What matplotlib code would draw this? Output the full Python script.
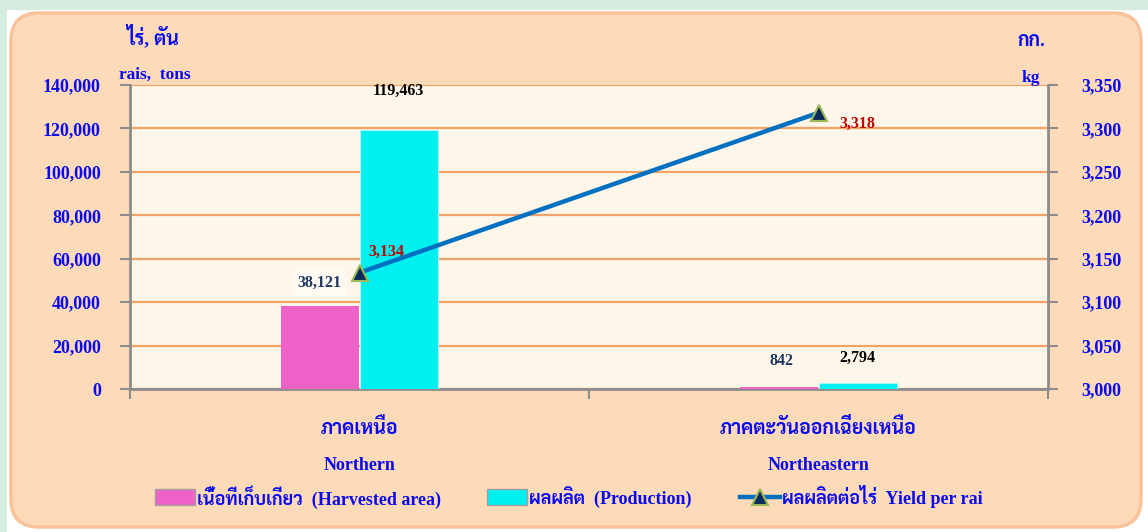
import matplotlib
matplotlib.use("Agg")
import matplotlib.pyplot as plt
from matplotlib.patches import FancyBboxPatch, Rectangle
from matplotlib.lines import Line2D
from matplotlib.ticker import FuncFormatter, FixedLocator
import numpy as np

# ---------------- data ----------------
regions_th = ["ภาคเหนือ", "ภาคตะวันออกเฉียงเหนือ"]
regions_en = ["Northern", "Northeastern"]
harvested_area = [38121, 842]        # rais
production = [119463, 2794]          # tons
yield_per_rai = [3134, 3318]         # kg
left_ticks = [0, 20000, 40000, 60000, 80000, 100000, 120000, 140000]
right_ticks = [3000, 3050, 3100, 3150, 3200, 3250, 3300, 3350]
legend_labels = ["เนื้อที่เก็บเกี่ยว  (Harvested area)",
                 "ผลผลิต  (Production)",
                 "ผลผลิตต่อไร่  Yield per rai"]

FONT = ["Liberation Serif", "Sarabun", "Athiti"]
plt.rcParams["font.family"] = FONT
plt.rcParams["font.weight"] = "bold"

BLUE = "#0a0af0"
PINK = "#ee62c8"
CYAN = "#00f0f0"
LINE = "#0070c0"

W, H = 1148, 532
fig = plt.figure(figsize=(W / 100, H / 100), dpi=100, facecolor="#d5ece1")

# background panel (pixel coordinates)
bg = fig.add_axes([0, 0, 1, 1], zorder=0)
bg.set_xlim(0, W)
bg.set_ylim(H, 0)
bg.axis("off")
bg.add_patch(Rectangle((7, 10), W - 7, H - 10, facecolor="white", edgecolor="none"))
bg.add_patch(FancyBboxPatch((11, 13), 1130, 514,
                            boxstyle="round,pad=0,rounding_size=28",
                            facecolor="#fddab8", edgecolor="#f9c29a", lw=2.5))

def fx(px):
    return px / W

def fy(py):
    return 1 - py / H

# ---------------- main axes ----------------
L, R, T, B = 130, 1048, 85, 389
ax = fig.add_axes([fx(L), fy(B), fx(R - L), (B - T) / H], zorder=2)
ax.set_facecolor("#fef6e8")
x = np.arange(len(regions_en))
bw = 0.17
ax.bar(x - 0.087, harvested_area, width=bw, color=PINK, edgecolor="none", zorder=3)
ax.bar(x + 0.085, production, width=bw, color=CYAN, edgecolor="#a8f6f6", lw=0.8, zorder=3)
ax.set_xlim(-0.5, 1.5)
ax.set_ylim(0, 140000)
ax.yaxis.set_major_locator(FixedLocator(left_ticks))
ax.yaxis.set_major_formatter(FuncFormatter(lambda v, p: f"{int(v):,}"))
ax.grid(axis="y", color="#f2a468", lw=1.6, zorder=1)
ax.set_axisbelow(True)
ax.spines["top"].set_visible(False)
ax.spines["right"].set_visible(False)
for s in ["left", "bottom"]:
    ax.spines[s].set_color("#8c8c8c")
    ax.spines[s].set_linewidth(2)
ax.tick_params(axis="y", colors="#8c8c8c", length=7, width=1.5, pad=14,
               labelcolor=BLUE, labelsize=13)
ax.set_xticks([-0.5, 0.5, 1.5])
ax.set_xticklabels([])
ax.tick_params(axis="x", colors="#8c8c8c", length=7, width=1.5)
for lab in ax.get_yticklabels():
    lab.set_fontweight("bold")

# category labels
trans = ax.get_xaxis_transform()
for xi, th, en in zip(x, regions_th, regions_en):
    ax.text(xi, -(428 - B) / (B - T), th, transform=trans, ha="center", va="center",
            color=BLUE, fontsize=14, fontweight="bold", clip_on=False)
    ax.text(xi, -(466 - B) / (B - T), en, transform=trans, ha="center", va="center",
            color=BLUE, fontsize=13, fontweight="bold", clip_on=False)

# bar value labels
ax.annotate(f"{harvested_area[0]:,}", (x[0] - 0.087, harvested_area[0]), xytext=(0, 17),
            textcoords="offset points", ha="center", va="center", fontsize=11.5,
            color="#1f3864", fontweight="bold",
            bbox=dict(boxstyle="square,pad=0.3", fc="#fffaf2", ec="none"))
ax.annotate(f"{harvested_area[1]:,}", (x[1] - 0.087, harvested_area[1]), xytext=(2, 19),
            textcoords="offset points", ha="center", va="center", fontsize=11.5,
            color="#1f3864", fontweight="bold")
ax.annotate(f"{production[0]:,}", (x[0] + 0.085, production[0]), xytext=(0, 28),
            textcoords="offset points", ha="center", va="center", fontsize=11.5,
            color="black", fontweight="bold")
ax.annotate(f"{production[1]:,}", (x[1] + 0.085, production[1]), xytext=(0, 18),
            textcoords="offset points", ha="center", va="center", fontsize=11.5,
            color="black", fontweight="bold")

# ---------------- secondary axis ----------------
ax2 = ax.twinx()
ax2.set_zorder(3)
ax2.set_ylim(3000, 3350)
ax2.yaxis.set_major_locator(FixedLocator(right_ticks))
ax2.yaxis.set_major_formatter(FuncFormatter(lambda v, p: f"{int(v):,}"))
for s in ["top", "left", "bottom"]:
    ax2.spines[s].set_visible(False)
ax2.spines["right"].set_color("#8c8c8c")
ax2.spines["right"].set_linewidth(2)
ax2.tick_params(axis="y", colors="#8c8c8c", length=7, width=1.5, pad=17,
                labelcolor=BLUE, labelsize=13)
for lab in ax2.get_yticklabels():
    lab.set_fontweight("bold")
ax2.plot(x, yield_per_rai, color=LINE, lw=3.2, zorder=4, marker="^", ms=12,
         mfc="#0d2a5c", mec="#9bbb59", mew=1.5)
ax2.annotate(f"{yield_per_rai[0]:,}", (x[0], yield_per_rai[0]), xytext=(19, 15),
             textcoords="offset points", ha="center", va="center", fontsize=11.5,
             color="#c00000", fontweight="bold")
ax2.annotate(f"{yield_per_rai[1]:,}", (x[1], yield_per_rai[1]), xytext=(28, -8),
             textcoords="offset points", ha="center", va="center", fontsize=11.5,
             color="#c00000", fontweight="bold")

# axis unit titles
fig.text(fx(153), fy(36), "ไร่, ตัน", ha="center", va="center", color=BLUE,
         fontsize=14, fontweight="bold")
fig.text(fx(155), fy(75), "rais,  tons", ha="center", va="center", color=BLUE,
         fontsize=12.5, fontweight="bold")
fig.text(fx(1031), fy(42), "กก.", ha="center", va="center", color=BLUE,
         fontsize=14, fontweight="bold")
fig.text(fx(1031), fy(78), "kg", ha="center", va="center", color=BLUE,
         fontsize=12.5, fontweight="bold")

# ---------------- legend (pixel layout) ----------------
ly = 497
bg.add_patch(Rectangle((155, 489), 40, 16, facecolor=PINK, edgecolor="#a0a0a0", lw=1, zorder=3))
bg.text(197, ly, legend_labels[0], ha="left", va="center", color=BLUE, fontsize=13,
        fontweight="bold")
bg.add_patch(Rectangle((487, 489), 40, 16, facecolor=CYAN, edgecolor="#a0a0a0", lw=1, zorder=3))
bg.text(529, ly, legend_labels[1], ha="left", va="center", color=BLUE, fontsize=13,
        fontweight="bold")
bg.add_line(Line2D([740, 780], [ly, ly], color=LINE, lw=3.2))
bg.plot([760], [ly], marker="^", ms=12, mfc="#0d2a5c", mec="#9bbb59", mew=1.5)
bg.text(782, ly, legend_labels[2], ha="left", va="center", color=BLUE, fontsize=13,
        fontweight="bold")

fig.savefig("out.png", dpi=100, facecolor=fig.get_facecolor())
